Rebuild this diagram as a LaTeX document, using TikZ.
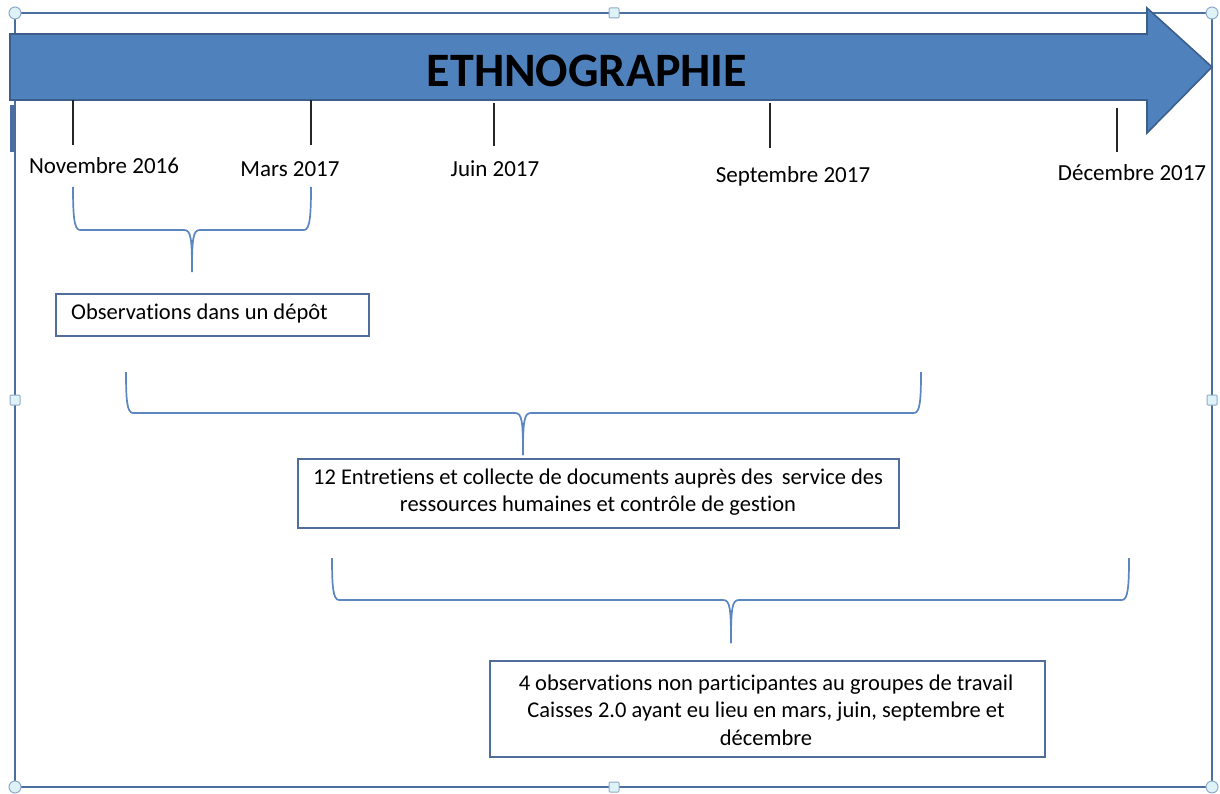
\documentclass[tikz,border=0pt]{standalone}
\usepackage{fontspec}
\setmainfont{Carlito}[Ligatures={NoCommon}]
\definecolor{arrowfill}{HTML}{4F81BD}
\definecolor{arrowline}{HTML}{3B5E8C}
\definecolor{framec}{HTML}{4A6E9E}
\definecolor{bracec}{HTML}{5B86C0}
\definecolor{boxline}{HTML}{4F6E9C}
\definecolor{handlefill}{HTML}{DDF3F8}
\definecolor{handleline}{HTML}{8FAAC8}
\tikzset{
  tick/.style={line width=1.6pt, black!85},
  datelabel/.style={font=\fontsize{23}{26}\selectfont, inner sep=0pt, anchor=center},
  bracepath/.style={draw=bracec, line width=1.7pt, line join=round},
  infobox/.style={draw=boxline, line width=1.6pt, fill=white, inner sep=0pt},
  boxtext/.style={font=\fontsize{22.5}{27.5}\selectfont, align=center, inner sep=0pt},
  sqhandle/.style={draw=handleline, fill=handlefill, line width=1pt, minimum size=10pt, inner sep=0pt, rounded corners=1pt},
  cirhandle/.style={draw=handleline, fill=handlefill, line width=1pt, circle, minimum size=12pt, inner sep=0pt}
}
\begin{document}
\begin{tikzpicture}[x=1pt,y=-1pt]
\useasboundingbox (0,0) rectangle (1220,794);
% frame
\draw[framec, line width=2.2pt] (15,13) rectangle (1212,787);
\draw[framec, line width=4pt] (12,105) -- (12,152);
% arrow
\draw[fill=arrowfill, draw=arrowline, line width=1.6pt, line join=miter]
  (10,34) -- (1147,34) -- (1147,8) -- (1212,67) -- (1147,133) -- (1147,100) -- (10,100) -- cycle;
\node[font=\fontsize{48}{52}\selectfont\bfseries, inner sep=0pt] (title) at (587,71) {ETHNOGRAPHIE};
% handles
\node[cirhandle] (h1) at (15,13) {};
\node[cirhandle] (h2) at (1212,13) {};
\node[cirhandle] (h3) at (15,787) {};
\node[cirhandle] (h4) at (1212,787) {};
\node[sqhandle] (h5) at (614,13) {};
\node[sqhandle] (h6) at (614,787) {};
\node[sqhandle] (h7) at (15,400) {};
\node[sqhandle] (h8) at (1212,400) {};
% ticks
\coordinate (t1a) at (73,100);  \coordinate (t1b) at (73,145);
\coordinate (t2a) at (311,100); \coordinate (t2b) at (311,145);
\coordinate (t3a) at (494,103); \coordinate (t3b) at (494,146);
\coordinate (t4a) at (770,103); \coordinate (t4b) at (770,148);
\coordinate (t5a) at (1117,108);\coordinate (t5b) at (1117,152);
\draw[tick] (t1a) -- (t1b);
\draw[tick] (t2a) -- (t2b);
\draw[tick] (t3a) -- (t3b);
\draw[tick] (t4a) -- (t4b);
\draw[tick] (t5a) -- (t5b);
% date labels
\node[datelabel] (d1) at (104,166) {Novembre 2016};
\node[datelabel] (d2) at (290,169) {Mars 2017};
\node[datelabel] (d3) at (495,169) {Juin 2017};
\node[datelabel] (d4) at (793,176) {Septembre 2017};
\node[datelabel] (d5) at (1132,173) {Décembre 2017};
% brace 1
\draw[bracepath] (73,187) .. controls (73,215) and (74,230) .. (80,230) -- (184,230)
  .. controls (191,230) and (192,238) .. (192,272);
\draw[bracepath] (311,187) .. controls (311,215) and (310,230) .. (304,230) -- (200,230)
  .. controls (193,230) and (192,238) .. (192,272);
% box 1
\node[infobox, minimum width=313pt, minimum height=42pt, anchor=north west] (b1) at (55,293) {};
\node[boxtext, anchor=west] (b1t) at (71,314) {Observations dans un dépôt};
% brace 2
\draw[bracepath] (126,372) .. controls (126,400) and (127,413) .. (133,413) -- (515,413)
  .. controls (522,413) and (523,421) .. (523,455);
\draw[bracepath] (921,372) .. controls (921,400) and (920,413) .. (914,413) -- (531,413)
  .. controls (524,413) and (523,421) .. (523,455);
% box 2
\node[infobox, minimum width=601pt, minimum height=69pt, anchor=north west] (b2) at (297,458) {};
\node[boxtext] (b2t) at (598,492) {12 Entretiens et collecte de documents auprès des\, service des\\ressources humaines et contrôle de gestion};
% brace 3
\draw[bracepath] (332,558) .. controls (332,586) and (333,600) .. (339,600) -- (723,600)
  .. controls (730,600) and (731,608) .. (731,643);
\draw[bracepath] (1129,558) .. controls (1129,586) and (1128,600) .. (1122,600) -- (739,600)
  .. controls (732,600) and (731,608) .. (731,643);
% box 3
\node[infobox, minimum width=555pt, minimum height=96pt, anchor=north west] (b3) at (489,660) {};
\node[boxtext] (b3t) at (766,710) {4 observations non participantes au groupes de travail\\Caisses 2.0 ayant eu lieu en mars, juin, septembre et\\décembre};
\end{tikzpicture}
\end{document}
